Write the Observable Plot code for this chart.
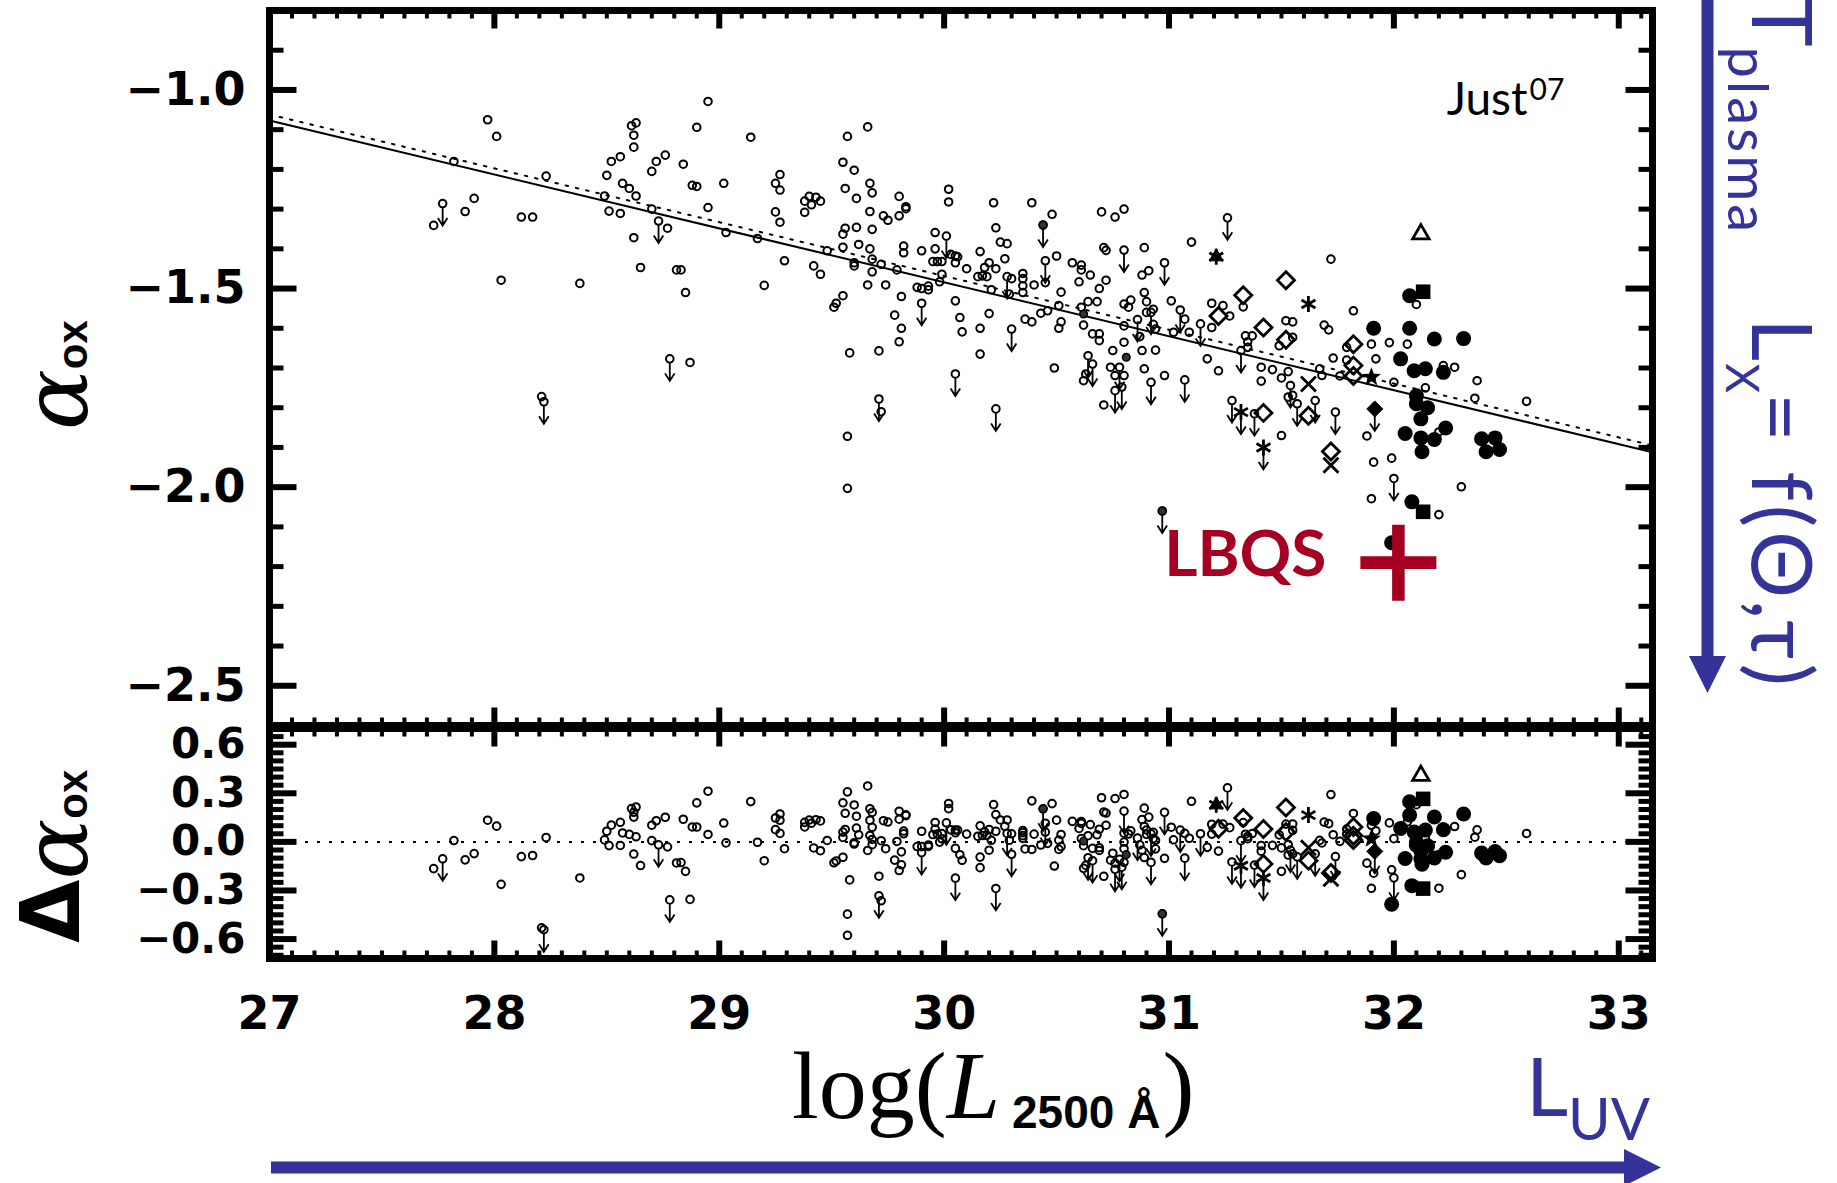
<!DOCTYPE html>
<html><head><meta charset="utf-8">
<script src="https://cdn.jsdelivr.net/npm/d3@7"></script>
<script src="https://cdn.jsdelivr.net/npm/@observablehq/plot@0.6"></script>
<style>
html,body{margin:0;padding:0;background:#fff;}
#wrap{position:relative;width:1837px;height:1183px;overflow:hidden;background:#fff;}
#wrap svg{position:absolute;left:0;top:0;}
</style></head><body><div id="wrap"></div>
<script>
// ---------- data: [log L2500, alpha_ox] ----------
const detections = [
[27.97,-1.075],[28.01,-1.117],[27.82,-1.18],[28.23,-1.217],[27.91,-1.273],[27.87,-1.306],[27.73,-1.341],[28.12,-1.32],[28.17,-1.32],[28.03,-1.479],[28.38,-1.487],[28.21,-1.772],[28.87,-1.686],
[28.61,-1.09],[28.63,-1.083],[28.62,-1.114],[28.62,-1.144],[28.52,-1.18],[28.56,-1.168],[28.50,-1.215],[28.57,-1.235],[28.60,-1.248],[28.63,-1.267],[28.49,-1.267],[28.51,-1.305],[28.56,-1.311],[28.70,-1.205],[28.72,-1.18],[28.76,-1.164],[28.84,-1.187],[28.70,-1.30],[28.77,-1.348],[28.62,-1.372],[28.65,-1.447],[28.81,-1.453],[28.83,-1.453],[28.85,-1.51],[28.90,-1.094],[28.88,-1.24],[28.90,-1.243],
[28.95,-1.029],[28.95,-1.296],[29.02,-1.235],[29.03,-1.359],[29.14,-1.119],[29.17,-1.374],[29.20,-1.492],[29.25,-1.235],[29.27,-1.213],[29.27,-1.252],[29.25,-1.307],[29.27,-1.333],[29.29,-1.43],
[29.38,-1.28],[29.40,-1.268],[29.43,-1.27],[29.45,-1.28],[29.41,-1.289],[29.38,-1.308],[29.42,-1.443],[29.45,-1.464],[29.48,-1.405],[29.51,-1.547],[29.52,-1.537],[29.55,-1.518],[29.55,-1.396],[29.55,-1.363],[29.56,-1.348],[29.55,-1.182],[29.57,-1.117],[29.66,-1.093],[29.56,-1.248],[29.60,-1.202],[29.61,-1.273],[29.61,-1.346],[29.60,-1.435],[29.60,-1.443],[29.62,-1.389],[29.67,-1.235],[29.68,-1.259],[29.67,-1.306],[29.67,-1.40],[29.68,-1.426],[29.68,-1.458],[29.68,-1.351],[29.66,-1.491],[29.74,-1.491],[29.72,-1.439],[29.73,-1.317],[29.75,-1.328],[29.79,-1.453],[29.80,-1.268],[29.80,-1.317],[29.83,-1.294],[29.83,-1.299],[29.82,-1.393],[29.82,-1.41],[29.81,-1.52],[29.78,-1.567],[29.81,-1.60],[29.80,-1.634],[29.58,-1.662],[29.71,-1.657],
[29.88,-1.497],[29.90,-1.50],[29.93,-1.494],[29.93,-1.503],[29.90,-1.405],[29.96,-1.359],[29.96,-1.40],[29.95,-1.432],[29.97,-1.432],[29.99,-1.432],[29.99,-1.464],[29.98,-1.483],[30.02,-1.25],[30.02,-1.282],[30.03,-1.414],[30.05,-1.418],[30.06,-1.42],[30.05,-1.435],[30.05,-1.531],[30.07,-1.573],[30.08,-1.609],[30.10,-1.45],[30.16,-1.407],[30.15,-1.47],[30.17,-1.468],[30.18,-1.447],[30.20,-1.435],[30.19,-1.47],[30.23,-1.45],[30.23,-1.347],[30.16,-1.60],[30.20,-1.563],[30.16,-1.665],[30.21,-1.503],[30.22,-1.284],[30.25,-1.383],[30.28,-1.387],[30.27,-1.425],[30.30,-1.475],[30.29,-1.514],[29.72,-1.81],[29.57,-1.872],[29.57,-2.003],
[30.35,-1.462],[30.35,-1.475],[30.35,-1.493],[30.35,-1.51],[30.39,-1.284],[30.40,-1.491],[30.36,-1.577],[30.39,-1.584],[30.48,-1.313],[30.45,-1.485],[30.43,-1.562],[30.46,-1.556],[30.50,-1.418],[30.52,-1.509],[30.51,-1.543],[30.52,-1.584],[30.51,-1.60],[30.49,-1.70],[30.57,-1.435],[30.61,-1.441],[30.61,-1.453],[30.65,-1.466],[30.60,-1.483],[30.70,-1.307],[30.76,-1.32],[30.80,-1.30],[30.71,-1.397],[30.72,-1.404],[30.72,-1.479],[30.69,-1.50],[30.64,-1.533],[30.68,-1.533],[30.61,-1.547],[30.62,-1.592],[30.66,-1.614],[30.69,-1.614],[30.69,-1.631],[30.80,-1.594],[30.89,-1.397],[30.88,-1.466],[30.91,-1.455],[30.89,-1.51],[30.80,-1.539],[30.83,-1.529],[30.82,-1.547],[30.90,-1.533],[30.90,-1.56],[30.87,-1.621],[30.88,-1.656],[30.94,-1.655],[30.93,-1.59],[30.75,-1.656],[30.80,-1.635],[30.74,-1.698],[30.76,-1.719],[30.80,-1.719],[30.71,-1.793],[30.62,-1.732],[30.63,-1.715],[30.89,-1.702],[30.98,-1.719],[30.93,-1.552],[30.94,-1.602],
[31.01,-1.531],[31.07,-1.577],[31.09,-1.61],[31.02,-1.61],[31.10,-1.383],[31.17,-1.677],[31.22,-1.707],[31.19,-1.537],[31.24,-1.543],[31.27,-1.569],[31.19,-1.598],[31.33,-1.546],[31.52,-1.581],[31.55,-1.584],[31.49,-1.644],[31.34,-1.619],[31.37,-1.619],[31.35,-1.634],[31.35,-1.648],[31.41,-1.698],[31.46,-1.704],[31.50,-1.725],[31.41,-1.733],[31.53,-1.709],[31.67,-1.702],[31.68,-1.719],[31.72,-1.426],[31.69,-1.592],[31.71,-1.604],[31.73,-1.675],[31.53,-1.773],[31.55,-1.769],[31.50,-1.87],[31.55,-1.623],
[31.82,-1.556],[31.79,-1.648],[31.90,-1.64],[31.98,-1.636],[32.06,-1.64],[31.92,-1.677],[31.79,-1.68],[31.76,-1.72],[32.00,-1.736],[32.14,-1.75],[32.37,-1.732],[32.36,-1.776],[32.59,-1.784],[32.10,-1.54],[32.22,-1.694],[32.27,-1.698],[32.20,-1.861],[31.88,-1.871],[31.91,-1.937],[31.99,-1.927],[32.30,-1.999],[31.90,-2.029],[32.20,-2.069]
];
const upperLimits = [
[27.77,-1.286],[28.73,-1.33],[28.78,-1.677],[28.22,-1.785],[29.71,-1.778],[29.90,-1.537],[30.01,-1.368],[30.05,-1.715],[30.28,-1.47],[30.30,-1.602],[30.23,-1.803],[30.44,-1.34],[30.45,-1.43],[30.80,-1.403],[30.86,-1.578],[30.92,-1.56],[30.64,-1.669],[30.66,-1.69],[30.78,-1.698],[30.76,-1.757],[30.79,-1.748],[30.92,-1.736],[31.07,-1.73],[30.98,-1.435],[31.05,-1.554],[31.14,-1.589],[31.26,-1.322],[31.32,-1.656],[31.54,-1.744],[31.57,-1.79],[31.65,-1.782],[31.74,-1.811],[31.28,-1.782],[31.38,-1.815],[30.97,-2.06],[32.00,-1.978]
];
const filledSmall = [[30.97,-2.06],[30.44,-1.34],[30.81,-1.673],[30.62,-1.564]];
const filledDots = [
[32.07,-1.518],[31.91,-1.60],[32.07,-1.60],[32.18,-1.627],[32.31,-1.626],[32.03,-1.677],[32.09,-1.707],[32.14,-1.702],[32.22,-1.711],[32.10,-1.77],[32.10,-1.79],[32.15,-1.80],[32.12,-1.828],[32.05,-1.865],[32.12,-1.876],[32.18,-1.88],[32.23,-1.851],[32.125,-1.911],[32.39,-1.878],[32.45,-1.876],[32.41,-1.911],[32.47,-1.905],[32.08,-2.037],[31.99,-2.14]
];
const squares = [[32.13,-1.508],[32.13,-2.062]];
const triangles = [[32.12,-1.363]];
const diamonds = [[31.22,-1.569],[31.33,-1.517],[31.52,-1.479],[31.42,-1.598],[31.52,-1.629],[31.62,-1.82],[31.42,-1.813],[31.72,-1.91],[31.82,-1.64],[31.82,-1.694],[31.82,-1.72]];
const asterisks = [[31.62,-1.539],[31.32,-1.811],[31.42,-1.90],[31.21,-1.42]];
const filledTriangles = [[31.21,-1.42]];
const crosses = [[31.62,-1.74],[31.72,-1.945]];
const stars = [[31.90,-1.723]];
const filledDiamonds = [[31.915,-1.803]];
const specialLimits = [[31.32,-1.811],[31.42,-1.90],[31.915,-1.803]];
const lbqs = [[32.02,-2.19]];

// fit lines (Just+07 solid, Steffen+06 dotted)
const fitX = [27, 33.15];
const fitSolid = [-1.077, -1.912];
const fitDotted = [-1.062, -1.895];

// axes
const xDomain = [27, 33.15];
const topYDomain = [-2.6, -0.8];
const botYDomain = [-0.72, 0.70];
const xTicks = [27, 28, 29, 30, 31, 32, 33];
const topYTicks = [-1.0, -1.5, -2.0, -2.5];
const botYTicks = [0.6, 0.3, 0.0, -0.3, -0.6];

// ---------- helpers ----------
const W = 1837, H = 1183;
const X = d => d[0], Y = d => d[1];
const slope = (fitSolid[1] - fitSolid[0]) / (fitX[1] - fitX[0]);
const fit = x => fitSolid[0] + slope * (x - fitX[0]);
const resid = arr => arr.map(([x, y]) => [x, y - fit(x)]);
const red = "#a50021", blue = "#333399";

const sym = fn => ({draw(c, size) { fn(c, Math.sqrt(size / Math.PI)); }});
const arrowSym = sym((c, r) => { c.moveTo(0, 3.8); c.lineTo(0, r); c.moveTo(-4.8, r - 7.5); c.lineTo(0, r); c.lineTo(4.8, r - 7.5); });
const diamondSym = sym((c, r) => { c.moveTo(0, -r); c.lineTo(r, 0); c.lineTo(0, r); c.lineTo(-r, 0); c.closePath(); });
const triSym = sym((c, r) => { c.moveTo(0, -r); c.lineTo(r * 0.866, r * 0.5); c.lineTo(-r * 0.866, r * 0.5); c.closePath(); });
const squareSym = sym((c, r) => { c.rect(-r, -r, 2 * r, 2 * r); });
const astSym = sym((c, r) => { c.moveTo(0, -r); c.lineTo(0, r); const a = r * 0.866, b = r * 0.5; c.moveTo(-a, -b); c.lineTo(a, b); c.moveTo(-a, b); c.lineTo(a, -b); });
const xSym = sym((c, r) => { c.moveTo(-r, -r); c.lineTo(r, r); c.moveTo(-r, r); c.lineTo(r, -r); });
const starSym = sym((c, r) => { for (let i = 0; i < 10; i++) { const rr = i % 2 ? r * 0.42 : r, a = -Math.PI / 2 + i * Math.PI / 5; const px = rr * Math.cos(a), py = rr * Math.sin(a); i ? c.lineTo(px, py) : c.moveTo(px, py); } c.closePath(); });
const plusBar = sym((c, r) => { const t = r * 0.165; c.rect(-r, -t, 2 * r, 2 * t); c.rect(-t, -r, 2 * t, 2 * r); });
const tick = (dx, dy) => sym((c, r) => { c.moveTo(0, 0); c.lineTo(dx * r, dy * r); });

const xMinor = d3.range(271, 332).filter(i => i % 10 !== 0).map(i => i / 10);
const topYMinor = d3.range(-25, -8).filter(i => i % 5 !== 0).map(i => i / 10);
const botYMinor = d3.range(-14, 15).filter(i => i % 6 !== 0).map(i => i * 0.05);

const tickFont = {fontFamily: "DejaVu Sans", fontWeight: "bold", fontSize: 46, fill: "black"};
const fmt = d => d.toFixed(1).replace("-", "\u2212");

function tickMarks(yMajor, yMinor, labelSize) {
  const k = {stroke: "black", fill: "none"};
  return [
    Plot.dot(xTicks, {x: d => d, frameAnchor: "top", symbol: tick(0, 1), r: 18, strokeWidth: 6, ...k}),
    Plot.dot(xTicks, {x: d => d, frameAnchor: "bottom", symbol: tick(0, -1), r: 18, strokeWidth: 6, ...k}),
    Plot.dot(xMinor, {x: d => d, frameAnchor: "top", symbol: tick(0, 1), r: 8, strokeWidth: 4, ...k}),
    Plot.dot(xMinor, {x: d => d, frameAnchor: "bottom", symbol: tick(0, -1), r: 8, strokeWidth: 4, ...k}),
    Plot.dot(yMajor, {y: d => d, frameAnchor: "left", symbol: tick(1, 0), r: 27, strokeWidth: 6, ...k}),
    Plot.dot(yMajor, {y: d => d, frameAnchor: "right", symbol: tick(-1, 0), r: 27, strokeWidth: 6, ...k}),
    Plot.dot(yMinor, {y: d => d, frameAnchor: "left", symbol: tick(1, 0), r: 14, strokeWidth: 5, ...k}),
    Plot.dot(yMinor, {y: d => d, frameAnchor: "right", symbol: tick(-1, 0), r: 14, strokeWidth: 5, ...k}),
    Plot.text(yMajor, {y: d => d, text: fmt, frameAnchor: "left", textAnchor: "end", lineAnchor: "middle", dx: -24, ...tickFont, fontSize: labelSize}),
    Plot.frame({stroke: "black", strokeWidth: 7})
  ];
}

function pointMarks(t) {
  const o = {x: X, y: Y};
  return [
    Plot.dot(t(detections), {...o, r: 3.8, stroke: "black", strokeWidth: 2, fill: "none"}),
    Plot.dot(t(upperLimits), {...o, r: 3.8, stroke: "black", strokeWidth: 2, fill: "none"}),
    Plot.dot(t(upperLimits), {...o, r: 22, symbol: arrowSym, stroke: "black", strokeWidth: 1.8, fill: "none"}),
    Plot.dot(t(specialLimits), {...o, r: 22, symbol: arrowSym, stroke: "black", strokeWidth: 1.8, fill: "none"}),
    Plot.dot(t(filledSmall), {...o, r: 3.8, fill: "#333", stroke: "black", strokeWidth: 1.5}),
    Plot.dot(t(filledDots), {...o, r: 7.5, fill: "black", stroke: "none"}),
    Plot.dot(t(squares), {...o, symbol: squareSym, r: 7.3, fill: "black", stroke: "none"}),
    Plot.dot(t(triangles), {...o, symbol: triSym, r: 9.5, fill: "none", stroke: "black", strokeWidth: 2.8}),
    Plot.dot(t(filledTriangles), {...o, symbol: triSym, r: 8, fill: "black", stroke: "black", strokeWidth: 1}),
    Plot.dot(t(diamonds), {...o, symbol: diamondSym, r: 8.5, fill: "none", stroke: "black", strokeWidth: 2.8}),
    Plot.dot(t(filledDiamonds), {...o, symbol: diamondSym, r: 8, fill: "black", stroke: "black", strokeWidth: 1}),
    Plot.dot(t(asterisks), {...o, symbol: astSym, r: 8, fill: "none", stroke: "black", strokeWidth: 2.8}),
    Plot.dot(t(crosses), {...o, symbol: xSym, r: 7.5, fill: "none", stroke: "black", strokeWidth: 2.8}),
    Plot.dot(t(stars), {...o, symbol: starSym, r: 10, fill: "black", stroke: "none"})
  ];
}

const common = {
  width: W, height: H, marginLeft: 269, marginRight: 185,
  style: {background: "transparent", overflow: "visible"}
};

const topPlot = Plot.plot({
  ...common, marginTop: 10, marginBottom: H - 725,
  x: {domain: xDomain, axis: null},
  y: {domain: topYDomain, axis: null},
  marks: [
    Plot.line(fitX.map((x, i) => [x, fitDotted[i]]), {x: X, y: Y, stroke: "black", strokeWidth: 2, strokeDasharray: "2.5,8"}),
    Plot.line(fitX.map((x, i) => [x, fitSolid[i]]), {x: X, y: Y, stroke: "black", strokeWidth: 2}),
    ...pointMarks(a => a),
    Plot.dot(lbqs, {x: X, y: Y, symbol: plusBar, r: 38, fill: red, stroke: "none"}),
    Plot.text(lbqs, {x: X, y: Y, text: () => "LBQS", textAnchor: "end", lineAnchor: "top", dx: -72, dy: -32, fontFamily: "Lato", fontWeight: "bold", fontSize: 64, fill: red}),
    Plot.text(["Just"], {text: d => d, frameAnchor: "top-right", textAnchor: "end", lineAnchor: "top", dx: -125, dy: 72, fontFamily: "Lato", fontSize: 46, fill: "black"}),
    Plot.text(["07"], {text: d => d, frameAnchor: "top-right", textAnchor: "start", lineAnchor: "top", dx: -123, dy: 68, fontFamily: "Lato", fontSize: 30, fill: "black"}),
    ...tickMarks(topYTicks, topYMinor, 46)
  ]
});

const botPlot = Plot.plot({
  ...common, marginTop: 728, marginBottom: H - 958,
  x: {domain: xDomain, axis: null},
  y: {domain: botYDomain, axis: null},
  marks: [
    Plot.ruleY([0], {stroke: "black", strokeWidth: 2, strokeDasharray: "3,9"}),
    ...pointMarks(resid),
    ...tickMarks(botYTicks, botYMinor, 42),
    Plot.text(xTicks, {x: d => d, text: d => String(d), frameAnchor: "bottom", lineAnchor: "middle", dy: 56, ...tickFont})
  ]
});

const wrap = document.getElementById("wrap");
wrap.appendChild(botPlot);
wrap.appendChild(topPlot);

// ---------- titles and annotation arrows ----------
const ov = d3.create("svg").attr("width", W).attr("height", H).attr("viewBox", `0 0 ${W} ${H}`);
// right vertical arrow
ov.append("line").attr("x1", 1707.5).attr("x2", 1707.5).attr("y1", 0).attr("y2", 662).attr("stroke", blue).attr("stroke-width", 12);
ov.append("path").attr("d", "M1689,656 L1726,656 L1707.5,693 Z").attr("fill", blue);
// bottom horizontal arrow
ov.append("line").attr("x1", 271).attr("x2", 1628).attr("y1", 1167.5).attr("y2", 1167.5).attr("stroke", blue).attr("stroke-width", 12);
ov.append("path").attr("d", "M1624,1149 L1624,1186 L1661,1167.5 Z").attr("fill", blue);

const t1 = ov.append("text").attr("transform", "translate(1752,-3) rotate(90)").attr("fill", blue).style("font-family", "Lato");
t1.append("tspan").attr("font-size", 84).text("T");
t1.append("tspan").attr("font-size", 56).attr("dy", 24).attr("letter-spacing", 3).text("plasma");

const t2 = ov.append("text").attr("transform", "translate(1752,318) rotate(90)").attr("fill", blue).style("font-family", "Lato");
t2.append("tspan").attr("font-size", 84).text("L");
t2.append("tspan").attr("font-size", 46).attr("dy", 26).attr("dx", 2).text("X");
t2.append("tspan").attr("font-size", 84).attr("dy", -26).attr("letter-spacing", 4).text("= f(\u0398,\u03C4)");

const t3 = ov.append("text").attr("x", 1526).attr("y", 1116).attr("fill", blue).style("font-family", "Lato");
t3.append("tspan").attr("font-size", 82).text("L");
t3.append("tspan").attr("font-size", 58).attr("dy", 24).text("UV");

// x-axis title
const xt = ov.append("text").attr("x", 792).attr("y", 1118).style("font-family", "Liberation Serif").attr("font-size", 96).attr("fill", "black");
xt.append("tspan").text("log(");
xt.append("tspan").attr("font-style", "italic").text("L");
xt.append("tspan").attr("dx", 12).attr("dy", 10).style("font-family", "Liberation Sans").attr("font-weight", "bold").attr("font-size", 46).text("2500 \u00C5");
xt.append("tspan").attr("dy", -10).attr("dx", 2).text(")");

// y-axis titles
const yt = ov.append("text").attr("transform", "translate(87,430) rotate(-90)").attr("fill", "black");
yt.append("tspan").style("font-family", "DejaVu Serif").attr("font-style", "italic").attr("font-size", 90).text("\u03B1");
yt.append("tspan").attr("dy", 0).style("font-family", "Liberation Sans").attr("font-weight", "bold").attr("font-size", 42).text("ox");

const yb = ov.append("text").attr("transform", "translate(79,943) rotate(-90)").attr("fill", "black");
yb.append("tspan").style("font-family", "DejaVu Sans").attr("font-weight", "bold").attr("font-size", 82).text("\u0394");
yb.append("tspan").attr("dy", 8).style("font-family", "DejaVu Serif").attr("font-style", "italic").attr("font-size", 90).text("\u03B1");
yb.append("tspan").attr("dy", 0).style("font-family", "Liberation Sans").attr("font-weight", "bold").attr("font-size", 42).text("ox");

wrap.appendChild(ov.node());
</script></body></html>
